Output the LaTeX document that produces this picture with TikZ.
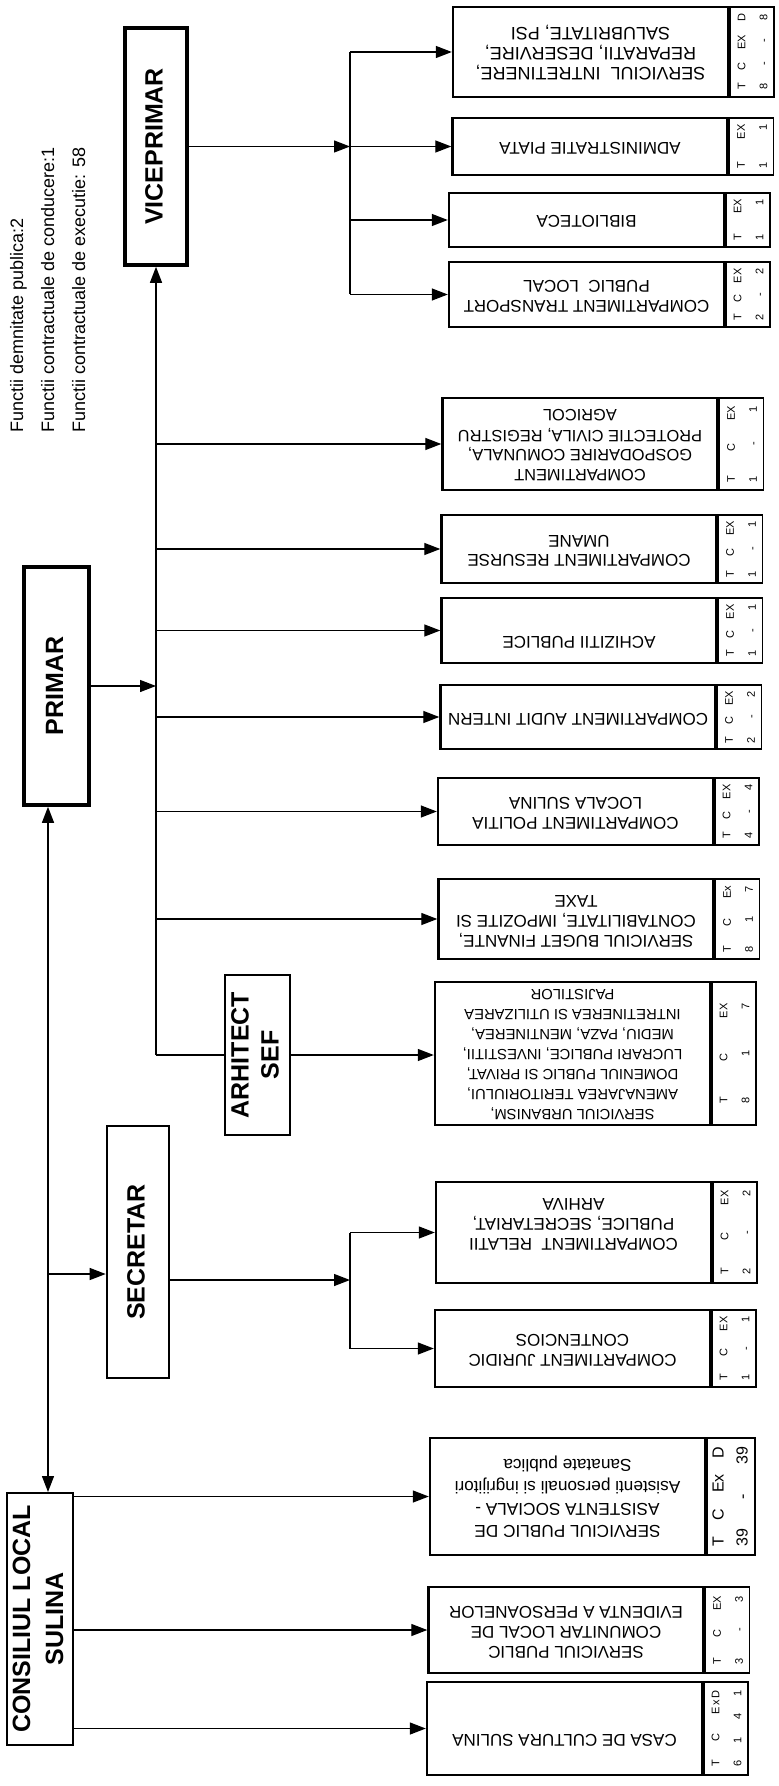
\documentclass[tikz,border=0pt]{standalone}
\usepackage{fontspec}
\setmainfont{Liberation Sans}
\usetikzlibrary{arrows.meta,positioning}

\newcommand{\turnup}[1]{\rotatebox{90}{\begin{tabular}{@{}c@{}}#1\end{tabular}}}
\newcommand{\turnover}[1]{\rotatebox{180}{\begin{tabular}{@{}c@{}}#1\end{tabular}}}
\newcommand{\tcex}[3]{\rotatebox{90}{\begin{tabular}{@{}l@{}}\makebox[#1][s]{#2}\\\makebox[#1][s]{#3}\end{tabular}}}

\begin{document}
\begin{tikzpicture}[x=0.5pt, y=-0.5pt, line width=0.65pt,
  chief/.style={draw, line width=1.8pt, inner sep=0pt, font=\fontsize{12.5}{16.5}\selectfont\bfseries},
  dept/.style={draw, line width=1.2pt, inner sep=0pt, minimum width=137.5pt, font=\fontsize{8.5}{10}\selectfont},
  cellbox/.style={draw, line width=0.65pt, inner sep=0pt, minimum width=22pt, font=\fontsize{5.5}{11}\selectfont},
  arr/.style={-{Triangle[length=8pt,width=6pt]}},
  dual/.style={{Triangle[length=8pt,width=6pt]}-{Triangle[length=8pt,width=6pt]}}]
\useasboundingbox (0,0) rectangle (779,1786);

% Conducere
\node[chief, minimum width=31pt, minimum height=118.5pt] (vice) at (156,146.5) {\turnup{VICEPRIMAR}};
\node[chief, minimum width=32.5pt, minimum height=119pt] (primar) at (56.5,686) {\turnup{PRIMAR}};
\node[chief, line width=1.3pt, minimum width=31pt, minimum height=126pt] (secr) at (138,1252) {\turnup{SECRETAR}};
\node[chief, line width=1.3pt, minimum width=32.5pt, minimum height=80pt, font=\fontsize{12.5}{15}\selectfont\bfseries] (arh) at (257.5,1055) {\turnup{ARHITECT\\SEF}};
\node[chief, line width=1pt, minimum width=33pt, minimum height=126pt] (cons) at (40,1619) {\turnup{CONSILIUL LOCAL\\SULINA}};

% Numar de functii
\node[anchor=south, inner sep=0pt, font=\fontsize{9}{15.5}\selectfont] (staff) at (48,433) {\rotatebox{90}{\begin{tabular}{@{}l@{}}Functii demnitate publica:2\\Functii contractuale de conducere:1\\Functii contractuale de executie: 58\end{tabular}}};

% Subordonate viceprimar
\node[dept, minimum height=45pt, font=\fontsize{9}{10}\selectfont] (serv) at (590.5,52) {\turnover{SERVICIUL\ \ INTRETINERE,\\REPARATII, DESERVIRE,\\SALUBRITATE, PSI}};
\node[cellbox, minimum height=45pt, right=0pt of serv] (servc) {\tcex{38pt}{T\hfill C\hfill EX\hfill D}{8\hfill -\hfill -\hfill 8}};
\node[dept, minimum height=28.5pt] (piata) at (590,146.5) {\turnover{ADMINISTRATIE PIATA}};
\node[cellbox, minimum height=28.5pt, right=0pt of piata] (piatac) {\tcex{22pt}{T\hfill EX}{1\hfill 1}};
\node[dept, minimum height=27pt] (biblio) at (586.5,220) {\turnover{BIBLIOTECA}};
\node[cellbox, minimum height=27pt, right=0pt of biblio] (biblioc) {\tcex{21pt}{T\hfill EX}{1\hfill 1}};
\node[dept, minimum height=32.5pt] (transp) at (586.5,294.5) {\turnover{COMPARTIMENT TRANSPORT\\PUBLIC\ \ LOCAL}};
\node[cellbox, minimum height=32.5pt, right=0pt of transp] (transpc) {\tcex{26pt}{T\hfill C\hfill EX}{2\hfill -\hfill 2}};

% Subordonate primar
\node[dept, minimum height=46pt, font=\fontsize{8.2}{10}\selectfont] (gosp) at (580,444) {\turnover{COMPARTIMENT\\GOSPODARIRE COMUNALA,\\PROTECTIE CIVILA, REGISTRU\\AGRICOL}};
\node[cellbox, minimum height=46pt, right=0pt of gosp] (gospc) {\tcex{38pt}{T\hfill C\hfill EX}{1\hfill -\hfill 1}};
\node[dept, minimum height=34pt] (resurse) at (579,549) {\turnover{COMPARTIMENT RESURSE\\UMANE}};
\node[cellbox, minimum height=34pt, right=0pt of resurse] (resursec) {\tcex{28pt}{T\hfill C\hfill EX}{1\hfill -\hfill 1}};
\node[dept, minimum height=32.5pt] (achiz) at (579,630.5) {\turnover{ACHIZITII PUBLICE\\\mbox{}}};
\node[cellbox, minimum height=32.5pt, right=0pt of achiz] (achizc) {\tcex{26pt}{T\hfill C\hfill EX}{1\hfill -\hfill 1}};
\node[dept, minimum height=32pt] (audit) at (578,717) {\turnover{COMPARTIMENT AUDIT INTERN}};
\node[cellbox, minimum height=32pt, right=0pt of audit] (auditc) {\tcex{26pt}{T\hfill C\hfill EX}{2\hfill -\hfill 2}};
\node[dept, minimum height=33.5pt] (politia) at (575.5,811.5) {\turnover{COMPARTIMENT POLITIA\\LOCALA SULINA}};
\node[cellbox, minimum height=33.5pt, right=0pt of politia] (politiac) {\tcex{27pt}{T\hfill C\hfill EX}{4\hfill -\hfill 4}};
\node[dept, minimum height=40pt] (buget) at (576,919) {\turnover{SERVICIUL BUGET FINANTE,\\CONTABILITATE, IMPOZITE SI\\TAXE}};
\node[cellbox, minimum height=40pt, right=0pt of buget] (bugetc) {\tcex{33pt}{T\hfill C\hfill Ex}{8\hfill 1\hfill 7}};
\node[dept, minimum height=71.5pt, font=\fontsize{7.4}{10}\selectfont] (urban) at (572.5,1053.5) {\turnover{SERVICIUL URBANISM,\\AMENAJAREA TERITORIULUI,\\DOMENIUL PUBLIC SI PRIVAT,\\LUCRARI PUBLICE, INVESTITII,\\MEDIU, PAZA, MENTINEREA,\\INTRETINEREA SI UTILIZAREA\\PAJISTILOR}};
\node[cellbox, minimum height=71.5pt, right=0pt of urban] (urbanc) {\tcex{50pt}{T\hfill C\hfill EX}{8\hfill 1\hfill 7}};

% Subordonate secretar
\node[dept, minimum height=50.5pt] (relatii) at (573.5,1232.5) {\turnover{\mbox{}\\COMPARTIMENT\ \ RELATII\\PUBLICE, SECRETARIAT,\\ARHIVA}};
\node[cellbox, minimum height=50.5pt, right=0pt of relatii] (relatiic) {\tcex{42pt}{T\hfill C\hfill EX}{2\hfill -\hfill 2}};
\node[dept, minimum height=38.5pt] (juridic) at (572.5,1348.5) {\turnover{COMPARTIMENT JURIDIC\\CONTENCIOS}};
\node[cellbox, minimum height=38.5pt, right=0pt of juridic] (juridicc) {\tcex{32pt}{T\hfill C\hfill EX}{1\hfill -\hfill 1}};

% Subordonate consiliu local
\node[dept, minimum height=58.5pt, font=\fontsize{8.6}{11}\selectfont] (asist) at (567.5,1496.5) {\turnover{SERVICIUL PUBLIC DE\\ASISTENTA SOCIALA -\\Asistenti personali si ingrijitori\\Sanatate publica}};
\node[cellbox, minimum height=58.5pt, minimum width=23.5pt, font=\fontsize{8}{12}\selectfont, right=0pt of asist] (asistc) {\tcex{50pt}{T\hfill C\hfill Ex\hfill D}{39\hfill -\hfill 39}};
\node[dept, minimum height=43pt] (evid) at (566,1630) {\turnover{SERVICIUL PUBLIC\\COMUNITAR LOCAL DE\\EVIDENTA A PERSOANELOR}};
\node[cellbox, minimum height=43pt, right=0pt of evid] (evidc) {\tcex{34pt}{T\hfill C\hfill EX}{3\hfill -\hfill 3}};
\node[dept, minimum height=46.5pt] (casa) at (564.5,1728.5) {\turnover{CASA DE CULTURA SULINA\\\mbox{}}};
\node[cellbox, minimum height=46.5pt, right=0pt of casa] (casac) {\tcex{38pt}{T\hfill C\hfill E\,x\,D}{6\hfill 1\hfill 4\hfill 1}};

% Legaturi
\coordinate (spine) at (48,0);
\coordinate (vbus) at (350,0);
\coordinate (sbus) at (350,0);
\coordinate (secin) at ([yshift=-11pt]secr.west);
\coordinate (secout) at ([yshift=-14pt]secr.east);

\draw[dual] (cons.north -| spine) -- (primar.south -| spine);
\draw[arr] (secin -| spine) -- (secin);

\draw[arr] (primar.east) -- (primar.east -| vice.south);
\draw[arr] (arh.west -| vice.south) -- (vice.south);
\draw (arh.west -| vice.south) -- (arh.west);
\draw[arr] (arh.east) -- (arh.east -| urban.west);
\draw[arr] (vice.south |- gosp.west) -- (gosp.west);
\draw[arr] (vice.south |- resurse.west) -- (resurse.west);
\draw[arr] (vice.south |- achiz.west) -- (achiz.west);
\draw[arr] (vice.south |- audit.west) -- (audit.west);
\draw[arr] (vice.south |- politia.west) -- (politia.west);
\draw[arr] (vice.south |- buget.west) -- (buget.west);

\draw[arr] (vice.east) -- (vice.east -| vbus);
\draw (vbus |- serv.west) -- (vbus |- transp.west);
\draw[arr] (vbus |- serv.west) -- (serv.west);
\draw[arr] (vbus |- piata.west) -- (piata.west);
\draw[arr] (vbus |- biblio.west) -- (biblio.west);
\draw[arr] (vbus |- transp.west) -- (transp.west);

\draw[arr] (secout) -- (secout -| sbus);
\draw (sbus |- relatii.west) -- (sbus |- juridic.west);
\draw[arr] (sbus |- relatii.west) -- (relatii.west);
\draw[arr] (sbus |- juridic.west) -- (juridic.west);

\draw[arr] (cons.east |- asist.west) -- (asist.west);
\draw[arr] (cons.east |- evid.west) -- (evid.west);
\draw[arr] (cons.east |- casa.west) -- (casa.west);
\end{tikzpicture}
\end{document}
